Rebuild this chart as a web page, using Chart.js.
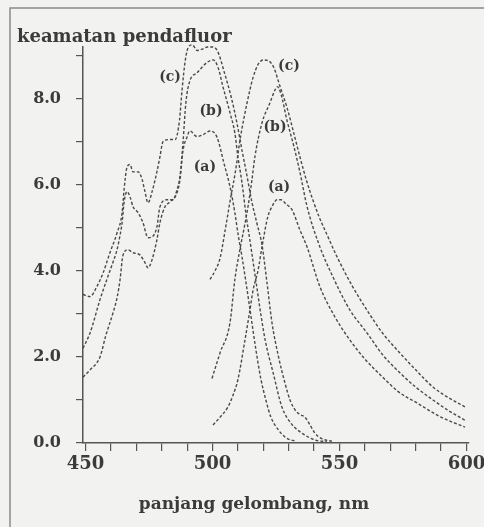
<!DOCTYPE html>
<html>
<head>
<meta charset="utf-8">
<script src="https://cdn.jsdelivr.net/npm/chart.js@4.4.1/dist/chart.umd.min.js"></script>
<style>
  html, body { margin: 0; padding: 0; background: #f2f2f0; overflow: hidden; }
  #wrap { width: 484px; height: 527px; }
</style>
</head>
<body>
<div id="wrap"><canvas id="c" width="484" height="527"></canvas></div>
<script>
// ---- data (wavelength in nm, relative fluorescence intensity) ----
const excANm  = [449, 451.8, 455.7, 458, 460.8, 462.5, 463.6, 464.7, 466.7, 468.7, 471.4, 473.4, 474.6, 476.2, 478.1, 479.3, 481.3, 483.3, 486, 487.2, 488.4, 489.9, 491.1, 493.9, 496.2, 499, 501.8, 504.5, 506.9, 508.8, 510.2, 511.6, 513, 515, 517, 519, 521, 523, 526, 529, 533];
const excAVal = [1.53, 1.7, 2.0, 2.5, 3.02, 3.4, 3.8, 4.35, 4.49, 4.42, 4.37, 4.19, 4.07, 4.26, 4.72, 5.12, 5.49, 5.6, 5.81, 6.12, 6.8, 7.1, 7.25, 7.12, 7.16, 7.25, 7.1, 6.5, 5.95, 5.35, 4.8, 4.33, 3.8, 3.0, 2.2, 1.5, 1.0, 0.6, 0.3, 0.12, 0.04];

const excBNm  = [449, 451.8, 455.7, 458.4, 460.5, 462.4, 463.5, 464.4, 465.2, 466.3, 467.5, 468.7, 470.7, 472.6, 474.6, 476.2, 478.1, 479.3, 482.1, 484.4, 486, 487.2, 488.4, 489.5, 491, 493.9, 497.8, 500.2, 502.1, 504.1, 506.9, 508.8, 510, 511.6, 513.2, 514.7, 517, 519, 520.7, 524, 527.3, 531, 535.2, 540.3, 545];
const excBVal = [2.2, 2.56, 3.33, 3.8, 4.15, 4.49, 4.8, 5.12, 5.6, 5.84, 5.72, 5.49, 5.35, 5.12, 4.77, 4.79, 5.02, 5.49, 5.65, 5.65, 5.88, 6.2, 7.0, 7.9, 8.4, 8.6, 8.84, 8.9, 8.74, 8.28, 7.67, 7.2, 6.65, 6.05, 5.3, 4.72, 3.8, 3.0, 2.4, 1.6, 0.84, 0.45, 0.23, 0.07, 0.03];

const excCNm  = [449, 451.8, 454.5, 456.9, 459.6, 462.4, 464.4, 465.2, 466.3, 467.5, 468.7, 470.7, 472.2, 473.4, 474.6, 476.2, 478.1, 479.3, 480.5, 483.3, 485.3, 487, 488, 489.3, 490.5, 492, 494, 496, 498, 500, 502, 504.7, 507.3, 509.6, 511.6, 513.6, 515.5, 517.5, 519.5, 521.5, 523.4, 526, 528.5, 530.5, 532.5, 534.5, 536.4, 538.4, 540.3, 543, 547];
const excCVal = [3.45, 3.4, 3.64, 3.95, 4.42, 4.88, 5.35, 5.9, 6.4, 6.47, 6.3, 6.3, 6.14, 5.84, 5.58, 5.84, 6.3, 6.65, 7.0, 7.05, 7.05, 7.5, 8.2, 8.9, 9.2, 9.25, 9.12, 9.15, 9.2, 9.2, 9.1, 8.6, 8.05, 7.44, 6.8, 6.2, 5.6, 5.1, 4.6, 3.7, 2.8, 2.0, 1.4, 1.0, 0.77, 0.66, 0.6, 0.42, 0.23, 0.1, 0.04];

const emANm  = [500.2, 503, 506.1, 508, 510, 512.8, 514.5, 516, 517.9, 519.5, 521.8, 523.5, 525.4, 527, 529, 531.3, 534.4, 537.2, 542.3, 548, 554, 560, 567, 573, 580.5, 590, 599.4];
const emAVal = [0.42, 0.6, 0.84, 1.1, 1.47, 2.4, 3.0, 3.56, 4.0, 4.56, 5.26, 5.5, 5.65, 5.65, 5.55, 5.42, 4.95, 4.56, 3.63, 2.95, 2.4, 1.95, 1.53, 1.2, 0.93, 0.6, 0.37];

const emBNm  = [499.8, 503, 506.9, 508.8, 510.8, 512.8, 514, 515.5, 516.7, 519.5, 522.6, 524.6, 525.5, 527, 529.3, 532, 534.4, 537.2, 542, 547.4, 554, 560.8, 567, 573.8, 580, 586.8, 593, 599.4];
const emBVal = [1.5, 2.1, 2.8, 3.8, 4.5, 5.1, 5.5, 6.1, 6.65, 7.44, 7.9, 8.2, 8.28, 8.1, 7.5, 6.9, 6.3, 5.5, 4.6, 3.86, 3.1, 2.56, 2.05, 1.63, 1.3, 1.0, 0.75, 0.53];

const emCNm  = [499, 501, 503, 505, 507, 509, 511, 513.6, 516, 518, 520, 522, 524, 526.5, 529.3, 532, 534.4, 537, 539.5, 542, 545, 549, 555, 560.8, 567, 573.8, 580, 586.8, 593, 599.4];
const emCVal = [3.8, 4.0, 4.3, 4.95, 5.65, 6.3, 7.1, 7.9, 8.5, 8.8, 8.9, 8.88, 8.74, 8.3, 7.8, 7.2, 6.65, 6.1, 5.65, 5.25, 4.85, 4.33, 3.65, 3.09, 2.55, 2.09, 1.7, 1.3, 1.05, 0.84];

// axis tick values and labels
const xTickValues = [450, 460, 470, 480, 490, 500, 510, 520, 530, 540, 550, 560, 570, 580, 590, 600];
const xTickLabels = ['450', '', '', '', '', '500', '', '', '', '', '550', '', '', '', '', '600'];
const yTickValues = [0, 1, 2, 3, 4, 5, 6, 7, 8, 9];
const yTickLabels = ['0.0', '', '2.0', '', '4.0', '', '6.0', '', '8.0', ''];

// curve annotations (text, wavelength, intensity)
const curveLabelText = ['(a)', '(b)', '(c)', '(a)', '(b)', '(c)'];
const curveLabelNm   = [497.0, 499.4, 483.3, 526.2, 524.6, 530.1];
const curveLabelVal  = [6.40, 7.70, 8.49, 5.95, 7.33, 8.74];

const titleText = 'keamatan pendafluor';
const xTitleText = 'panjang gelombang, nm';

// ---- chart ----
const INK = '#3b3b3b';
const LINE = '#4a4a4a';
const FONT = '"DejaVu Serif", "Liberation Serif", serif';

function pts(xs, ys) { return xs.map((x, i) => ({ x: x, y: ys[i] })); }
function ds(xs, ys) {
  return {
    data: pts(xs, ys),
    borderColor: LINE,
    borderWidth: 1.4,
    borderDash: [3, 2],
    pointRadius: 0,
    fill: false,
    cubicInterpolationMode: 'monotone',
    clip: false
  };
}

const decor = {
  id: 'decor',
  beforeDraw(chart) {
    const ctx = chart.ctx;
    ctx.save();
    ctx.fillStyle = '#f2f2f0';
    ctx.fillRect(0, 0, chart.width, chart.height);
    ctx.strokeStyle = '#8a8a8a';
    ctx.lineWidth = 1.5;
    ctx.beginPath();
    ctx.moveTo(10, chart.height);
    ctx.lineTo(10, 8);
    ctx.lineTo(chart.width, 8);
    ctx.stroke();
    ctx.restore();
  },
  afterDraw(chart) {
    const ctx = chart.ctx;
    const xs = chart.scales.x, ys = chart.scales.y;
    ctx.save();
    ctx.fillStyle = INK;
    ctx.textBaseline = 'alphabetic';
    ctx.textAlign = 'left';
    ctx.font = 'bold 18px ' + FONT;
    ctx.fillText(titleText, 17, 42);
    ctx.textAlign = 'center';
    ctx.font = 'bold 17px ' + FONT;
    ctx.fillText(xTitleText, 254, 509);
    ctx.font = 'bold 14px ' + FONT;
    ctx.textBaseline = 'middle';
    curveLabelText.forEach((t, i) => {
      ctx.fillText(t, xs.getPixelForValue(curveLabelNm[i]), ys.getPixelForValue(curveLabelVal[i]));
    });
    ctx.restore();
  }
};

new Chart(document.getElementById('c'), {
  type: 'line',
  data: {
    datasets: [
      ds(excANm, excAVal), ds(excBNm, excBVal), ds(excCNm, excCVal),
      ds(emANm, emAVal), ds(emBNm, emBVal), ds(emCNm, emCVal)
    ]
  },
  options: {
    responsive: false,
    devicePixelRatio: 1,
    animation: false,
    layout: { padding: { top: 47, right: 15, left: 0, bottom: 0 } },
    plugins: { legend: { display: false }, tooltip: { enabled: false }, title: { display: false } },
    scales: {
      x: {
        type: 'linear',
        min: 449,
        max: 601,
        afterFit(s) { s.height = 84; s.paddingLeft = 0; s.paddingRight = 0; },
        afterBuildTicks(s) { s.ticks = xTickValues.map(v => ({ value: v })); },
        border: { display: true, color: '#555', width: 1.5 },
        grid: { drawOnChartArea: false, drawTicks: true, tickLength: 8, color: '#555', lineWidth: 1.2 },
        ticks: {
          autoSkip: false, maxRotation: 0, padding: 3, color: INK,
          font: { family: FONT, size: 18, weight: 'bold' },
          callback(v) { const i = xTickValues.indexOf(v); return i >= 0 ? xTickLabels[i] : ''; }
        }
      },
      y: {
        type: 'linear',
        min: 0,
        max: 9.2,
        afterFit(s) { s.width = 83; s.paddingTop = 0; s.paddingBottom = 0; },
        afterBuildTicks(s) { s.ticks = yTickValues.map(v => ({ value: v })); },
        border: { display: true, color: '#555', width: 1.5 },
        grid: { drawOnChartArea: false, drawTicks: true, tickLength: 7, color: '#555', lineWidth: 1.2 },
        ticks: {
          autoSkip: false, padding: 15, color: INK,
          font: { family: FONT, size: 16, weight: 'bold' },
          callback(v) { const i = yTickValues.indexOf(v); return i >= 0 ? yTickLabels[i] : ''; }
        }
      }
    }
  },
  plugins: [decor]
});
</script>
</body>
</html>
